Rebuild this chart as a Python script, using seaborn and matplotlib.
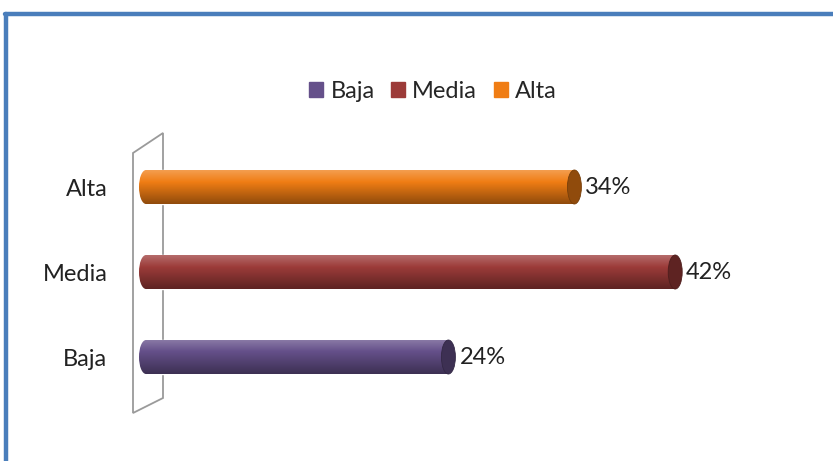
import numpy as np
import pandas as pd
import matplotlib
matplotlib.use("Agg")
import matplotlib.pyplot as plt
from matplotlib.patches import Ellipse, Polygon
from matplotlib.lines import Line2D
import matplotlib.colors as mcolors
import seaborn as sns

categories = ["Alta", "Media", "Baja"]
values = [34, 42, 24]
labels = ["34%", "42%", "24%"]
legend_order = ["Baja", "Media", "Alta"]
colors = {"Baja": "#65508a", "Media": "#9c3b39", "Alta": "#f07d14"}

sns.set_theme(style="white")
plt.rcParams["font.family"] = ["Lato", "DejaVu Sans"]

W, H = 833, 461
fig = plt.figure(figsize=(W / 100, H / 100), dpi=100)
fig.patch.set_facecolor("white")

def fx(px):
    return px / W

def fy(py):
    return 1 - py / H

zero, right, top, bottom = 146, 776, 136, 408
ux = 50 / (right - zero)
left = zero - 8
ax = fig.add_axes([fx(left), fy(bottom), fx(right - left), (bottom - top) / H])
ax.patch.set_alpha(0)

df = pd.DataFrame({"cat": categories, "val": values})
sns.barplot(data=df, y="cat", x="val", hue="cat", hue_order=legend_order,
            order=categories, palette=colors, orient="h", width=0.4,
            saturation=1, legend=False, ax=ax, zorder=2)

XL = (-8 * ux, 50)
ax.set_xlim(*XL)
ax.set_ylim(2.6, -0.6)
for s in ax.spines.values():
    s.set_visible(False)
ax.set_xticks([])
ax.set_xlabel("")
ax.set_ylabel("")
ax.tick_params(axis="y", length=0, pad=22, labelsize=17, labelcolor="#222222")


def shade_img(base):
    dark = tuple(c * 0.6 for c in base)
    light = tuple(min(1, c + (1 - c) * 0.25) for c in base)
    cols = []
    for t in np.linspace(0, 1, 64):
        if t < 0.35:
            f = t / 0.35
            c = tuple(light[i] * (1 - f) + base[i] * f for i in range(3))
        else:
            f = (t - 0.35) / 0.65
            c = tuple(base[i] * (1 - f) + dark[i] * f for i in range(3))
        cols.append(c)
    return np.array(cols).reshape(-1, 1, 3), dark


for p in ax.patches[:]:
    x0, y0 = p.get_x(), p.get_y()
    w, h = p.get_width(), p.get_height()
    idx = int(round(y0 + h / 2))
    lab = labels[idx]
    base = mcolors.to_rgb(p.get_facecolor())
    img, dark = shade_img(base)
    ew = 14 * ux
    im = ax.imshow(img, extent=(x0, x0 + w, y0 + h, y0), aspect="auto",
                   zorder=2.5, interpolation="bilinear")
    im.set_clip_path(p)
    # left rounded end, shaded
    el = Ellipse((x0, y0 + h / 2), ew, h, facecolor="none", edgecolor="none",
                 zorder=2.4)
    ax.add_patch(el)
    im2 = ax.imshow(img, extent=(x0 - ew / 2, x0 + ew / 2, y0 + h, y0), aspect="auto",
                    zorder=2.4, interpolation="bilinear")
    im2.set_clip_path(el)
    # right cap
    er = Ellipse((x0 + w, y0 + h / 2), ew, h, facecolor=dark,
                 edgecolor=tuple(c * 0.5 for c in base), lw=0.6, zorder=3, clip_on=False)
    ax.add_patch(er)
    ax.text(x0 + w + 11 * ux, y0 + h / 2, lab, va="center", ha="left",
            fontsize=17, color="#222222", zorder=4)

ax.set_xlim(*XL)
ax.set_ylim(2.6, -0.6)

# wall
wall = [(133, 153), (163, 133), (163, 398), (133, 413)]
poly = Polygon([(fx(a), fy(b)) for a, b in wall], closed=True, fill=False,
               edgecolor="#9a9a9a", lw=1.3, transform=fig.transFigure,
               zorder=1, clip_on=False)
ax.add_patch(poly)

# legend
handles = [plt.Rectangle((0, 0), 1, 1, color=colors[c]) for c in legend_order]
fig.legend(handles, legend_order, loc="center", bbox_to_anchor=(fx(433), fy(91)),
           ncol=3, frameon=False, fontsize=17, handlelength=0.6, handleheight=0.6,
           handletextpad=0.3, columnspacing=0.7)

# outer border (top and left visible)
fig.add_artist(Line2D([fx(6), fx(6)], [fy(14), fy(470)], color="#4a7ebb", lw=3.2,
                      transform=fig.transFigure))
fig.add_artist(Line2D([fx(4.5), fx(840)], [fy(14), fy(14)], color="#4a7ebb", lw=3.2,
                      transform=fig.transFigure))

fig.savefig("out.png", dpi=100, facecolor="white")
